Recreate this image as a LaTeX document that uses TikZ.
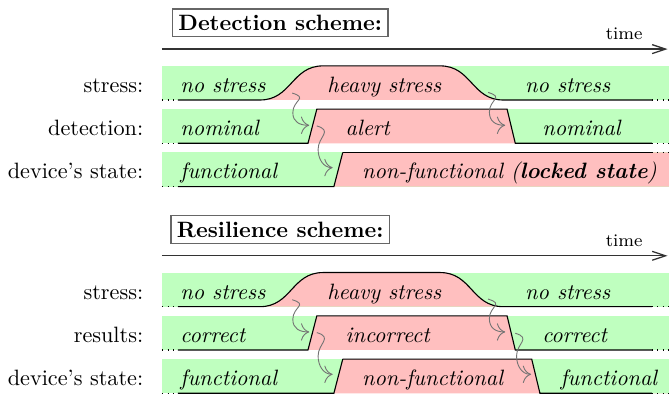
\documentclass[tikz,border=0pt]{standalone}
\usetikzlibrary{arrows.meta}

\begin{document}
\begin{tikzpicture}[
  ok/.style={fill=green!25},
  ko/.style={fill=red!25},
  rim/.style={line width=0.5pt},
  rimdots/.style={line width=0.5pt,dotted},
  scheme/.style={draw=black!60,semithick,inner sep=2.7pt,font=\bfseries},
  axis/.style={black!80,semithick,-{Straight Barb[length=6pt,width=4pt]}},
  lbl/.style={anchor=base east,inner sep=0pt},
  val/.style={anchor=base west,inner sep=0pt,font=\itshape},
  cause/.style={black!55,thin,-{To[scale=1.5]}}]

\useasboundingbox (-2.563,-4.668) rectangle (8.022,1.582);

\foreach \dy/\pre/\head/\row/\good/\bad/\broken in {
    0/d/Detection/detection/nominal/alert/{non-functional (\textbf{locked state})},
    -3.27/r/Resilience/results/correct/incorrect/non-functional} {
\begin{scope}[yshift=\dy cm]

\node[scheme] (\pre-title) at (1.87,1.22) {\head\ scheme:};

% time axis
\coordinate (\pre-t0) at (0,0.805);
\coordinate (\pre-t1) at (8.0,0.805);
\draw[axis] (\pre-t0) -- (\pre-t1);
\node[lbl,font=\footnotesize] (\pre-time) at (7.61,0.95) {time};

% bands
\fill[ok] (0,0)      rectangle (8.022,0.54);
\fill[ok] (0,-0.685) rectangle (8.022,-0.145);
\fill[ok] (0,-1.37)  rectangle (8.022,-0.83);

% stress row
\fill[ko] (1.55,0) .. controls (2.05,0) and (2.05,0.54) .. (2.55,0.54) -- (4.40,0.54)
          .. controls (4.90,0.54) and (4.90,0) .. (5.40,0) -- cycle;
\draw[rim] (0.25,0) -- (1.55,0) .. controls (2.05,0) and (2.05,0.54) .. (2.55,0.54) -- (4.40,0.54)
          .. controls (4.90,0.54) and (4.90,0) .. (5.40,0) -- (7.75,0);
\draw[rimdots] (0,0) -- (0.25,0) (7.75,0) -- (8.022,0);

% second row
\fill[ko] (2.31,-0.685) -- (2.45,-0.145) -- (5.46,-0.145) -- (5.59,-0.685) -- cycle;
\draw[rim] (0.25,-0.685) -- (2.31,-0.685) -- (2.45,-0.145) -- (5.46,-0.145) -- (5.59,-0.685) -- (7.75,-0.685);
\draw[rimdots] (0,-0.685) -- (0.25,-0.685) (7.75,-0.685) -- (8.022,-0.685);

% state row (left part)
\fill[ko] (2.72,-1.37) -- (2.86,-0.83) -- (8.022,-0.83) -- (8.022,-1.37) -- cycle;
\draw[rim] (0.25,-1.37) -- (2.72,-1.37) -- (2.86,-0.83);
\draw[rimdots] (0,-1.37) -- (0.25,-1.37);

\node[lbl] (\pre-lab1) at (-0.29,0.12)   {stress:};
\node[lbl] (\pre-lab2) at (-0.29,-0.565) {\row:};
\node[lbl] (\pre-lab3) at (-0.29,-1.25)  {device's state:};

\node[val] (\pre-s1) at (0.285,0.12)  {no stress};
\node[val] (\pre-s2) at (2.61,0.12)   {heavy stress};
\node[val] (\pre-s3) at (5.74,0.12)   {no stress};
\node[val] (\pre-m1) at (0.285,-0.565) {\good};
\node[val] (\pre-m2) at (2.90,-0.565)  {\bad};
\node[val] (\pre-m3) at (6.01,-0.565)  {\good};
\node[val] (\pre-f1) at (0.285,-1.25)  {functional};
\node[val] (\pre-f2) at (3.16,-1.25)   {\broken};

% causes
\coordinate (\pre-a1) at (2.06,0.11);
\coordinate (\pre-b1) at (2.07,-0.20);
\coordinate (\pre-c1) at (2.33,-0.40);
\draw[cause] (\pre-a1) .. controls +(0.26,-0.08) and +(0,0.2) .. (\pre-b1)
             .. controls +(0,-0.15) and +(-0.15,0) .. (\pre-c1);
\coordinate (\pre-a2) at (2.45,-0.41);
\coordinate (\pre-b2) at (2.47,-0.78);
\coordinate (\pre-c2) at (2.70,-1.07);
\draw[cause] (\pre-a2) .. controls +(0.26,-0.08) and +(0,0.2) .. (\pre-b2)
             .. controls +(0,-0.15) and +(-0.15,0) .. (\pre-c2);
\coordinate (\pre-a3) at (5.16,0.12);
\coordinate (\pre-b3) at (5.18,-0.19);
\coordinate (\pre-c3) at (5.43,-0.40);
\draw[cause] (\pre-a3) .. controls +(0.26,-0.08) and +(0,0.2) .. (\pre-b3)
             .. controls +(0,-0.15) and +(-0.15,0) .. (\pre-c3);

\end{scope}
}

% detection: the device stays locked
\draw[rim] (2.86,-0.83) -- (7.75,-0.83);
\draw[rimdots] (7.75,-0.83) -- (8.022,-0.83);

% resilience: the device recovers
\begin{scope}[yshift=-3.27cm]
\fill[ok] (5.85,-0.83) -- (8.022,-0.83) -- (8.022,-1.37) -- (5.98,-1.37) -- cycle;
\draw[rim] (2.86,-0.83) -- (5.85,-0.83) -- (5.98,-1.37) -- (7.75,-1.37);
\draw[rimdots] (7.75,-1.37) -- (8.022,-1.37);
\node[val] (r-f3) at (6.30,-1.25) {functional};

\coordinate (r-a4) at (5.59,-0.42);
\coordinate (r-b4) at (5.61,-0.78);
\coordinate (r-c4) at (5.84,-1.07);
\draw[cause] (r-a4) .. controls +(0.26,-0.08) and +(0,0.2) .. (r-b4)
             .. controls +(0,-0.15) and +(-0.15,0) .. (r-c4);
\end{scope}

\end{tikzpicture}
\end{document}
